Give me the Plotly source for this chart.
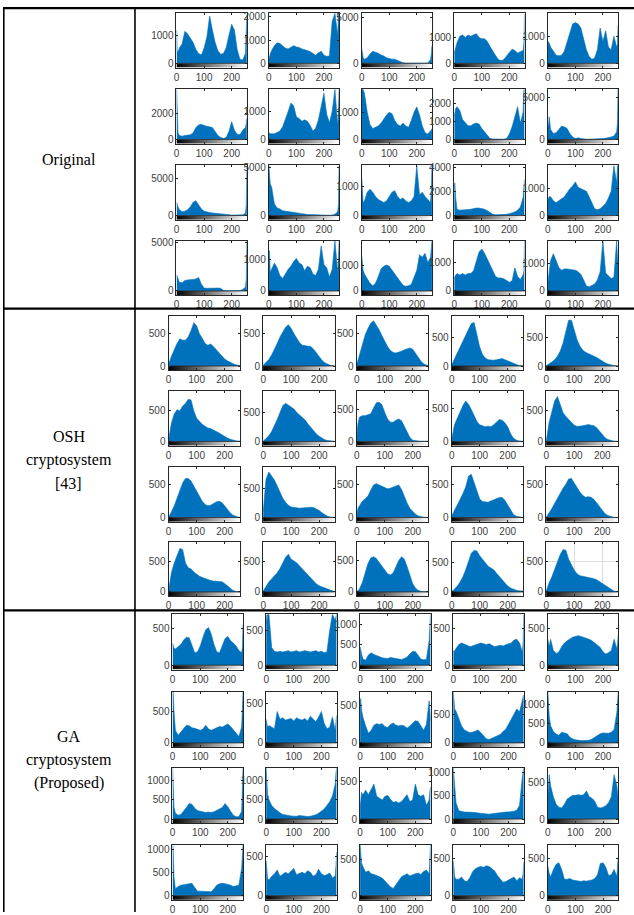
import plotly.graph_objects as go

# ---------------- data ----------------
# grey levels at which the histogram envelopes were sampled
LEVELS = [0, 2, 5, 10, 20, 30, 40, 50, 60, 70, 80, 90, 100, 110, 120, 130, 140, 150,
          160, 170, 180, 190, 200, 210, 220, 230, 240, 250, 253, 255]
GRAY_STRIP = list(range(256))
X_TICKS = [0, 100, 200]

ROW_LABELS = {"orig": ["Original"],
              "osh": ["OSH", "cryptosystem", "[43]"],
              "ga": ["GA", "cryptosystem", "(Proposed)"]}

# ---- Original images ----
orig_1_1 = [1200, 450, 400, 550, 700, 1150, 1050, 900, 750, 500, 350, 300, 550, 950, 1700, 1200, 750, 450, 330, 350, 550, 1000, 1400, 1200, 500, 150, 120, 350, 900, 1750]
orig_1_2 = [150, 300, 400, 550, 750, 880, 850, 750, 650, 620, 700, 760, 700, 680, 620, 600, 550, 500, 420, 350, 450, 520, 350, 300, 320, 1800, 2150, 1200, 2150, 2150]
orig_1_3 = [1600, 1100, 600, 450, 600, 1000, 1300, 1200, 1100, 900, 800, 600, 500, 450, 450, 300, 120, 60, 25, 15, 10, 10, 10, 10, 15, 20, 50, 400, 1100, 1900]
orig_1_4 = [400, 500, 600, 800, 1050, 1100, 1000, 1100, 1050, 1100, 1150, 1000, 950, 950, 850, 650, 450, 300, 150, 100, 150, 300, 450, 550, 500, 400, 450, 500, 800, 1900]
orig_1_5 = [600, 800, 750, 600, 450, 300, 280, 300, 450, 800, 1200, 1450, 1500, 1450, 1300, 900, 500, 250, 150, 200, 500, 1300, 800, 1200, 600, 500, 1000, 600, 700, 1400]
orig_2_1 = [3800, 1500, 500, 300, 250, 300, 300, 350, 500, 900, 1100, 1150, 1050, 1000, 950, 900, 600, 300, 150, 80, 150, 600, 1350, 700, 400, 350, 700, 900, 1200, 1600]
orig_2_2 = [250, 220, 200, 200, 200, 250, 300, 450, 700, 1000, 1300, 1200, 800, 750, 650, 700, 650, 500, 300, 400, 700, 1200, 1650, 900, 600, 1000, 1790, 500, 1000, 1790]
orig_2_3 = [1850, 1850, 1850, 1700, 1000, 550, 400, 450, 500, 600, 750, 900, 1000, 950, 700, 550, 500, 600, 500, 450, 700, 1000, 1200, 900, 500, 250, 200, 300, 350, 400]
orig_2_4 = [1300, 1500, 1700, 1800, 1600, 1100, 900, 750, 750, 850, 900, 850, 600, 400, 200, 50, 20, 10, 10, 10, 10, 50, 300, 700, 1200, 1800, 900, 1500, 2760, 2760]
orig_2_5 = [1800, 1500, 2700, 1200, 700, 800, 1200, 1600, 1500, 1300, 700, 300, 100, 200, 100, 30, 20, 20, 20, 20, 30, 50, 100, 150, 200, 300, 400, 900, 2000, 6000]
orig_3_1 = [1800, 1500, 1200, 800, 500, 600, 800, 1200, 1800, 2000, 1500, 900, 600, 450, 400, 350, 300, 300, 250, 200, 150, 100, 80, 70, 60, 60, 100, 300, 1500, 6700]
orig_3_2 = [5250, 4000, 3300, 3000, 1200, 800, 700, 500, 450, 400, 350, 300, 250, 250, 200, 150, 120, 100, 80, 60, 50, 50, 40, 40, 40, 50, 150, 400, 1200, 5250]
orig_3_3 = [1300, 800, 450, 500, 800, 900, 800, 650, 550, 500, 450, 500, 650, 800, 850, 650, 550, 600, 500, 450, 500, 650, 1700, 700, 800, 650, 550, 450, 900, 1710]
orig_3_4 = [2400, 2700, 1500, 500, 450, 450, 480, 500, 520, 580, 620, 620, 580, 520, 400, 250, 100, 60, 60, 60, 70, 100, 150, 200, 300, 450, 700, 1500, 2500, 3000]
orig_3_5 = [600, 650, 700, 700, 550, 480, 550, 600, 700, 850, 1000, 1100, 1250, 1050, 1000, 950, 900, 700, 450, 250, 220, 250, 350, 450, 650, 900, 1860, 1200, 1860, 1100]
orig_4_1 = [1700, 1500, 1200, 900, 850, 1100, 1150, 1150, 1200, 1250, 1400, 700, 300, 280, 300, 300, 300, 300, 280, 50, 30, 20, 20, 20, 30, 50, 150, 400, 1200, 5200]
orig_4_2 = [800, 1300, 600, 700, 900, 750, 500, 400, 550, 700, 800, 950, 1050, 900, 850, 650, 800, 750, 550, 500, 700, 1450, 850, 750, 450, 700, 1615, 600, 1000, 1615]
orig_4_3 = [1350, 1100, 800, 650, 450, 300, 200, 300, 550, 850, 950, 1000, 950, 800, 650, 500, 380, 220, 180, 200, 250, 500, 800, 1400, 1300, 1450, 1100, 1300, 1700, 1930]
orig_4_4 = [450, 500, 550, 600, 550, 600, 550, 600, 600, 700, 1000, 1350, 1450, 1300, 1100, 900, 700, 500, 450, 450, 420, 350, 300, 350, 800, 500, 400, 550, 700, 1730]
orig_4_5 = [300, 500, 800, 1100, 1350, 1100, 850, 750, 800, 800, 780, 750, 750, 700, 600, 400, 180, 150, 200, 250, 400, 700, 1815, 650, 550, 450, 500, 1815, 1200, 1000]
orig_ymax = [[1800, 2150, 5420, 1940, 1845], [3800, 1790, 1850, 2760, 5980],
             [6770, 5250, 1710, 4140, 1860], [5210, 1615, 1930, 1730, 1815]]
orig_ystep = [[1000, 1000, 5000, 1000, 1000], [2000, 1000, 1000, 1000, 5000],
              [5000, 5000, 1000, 2000, 1000], [5000, 1000, 1000, 1000, 1000]]

# ---- OSH cryptosystem [43] ----
osh_1_1 = [30, 60, 100, 150, 250, 350, 420, 400, 400, 450, 550, 670, 620, 500, 430, 350, 320, 340, 300, 250, 200, 150, 110, 80, 55, 35, 20, 8, 5, 3]
osh_1_2 = [10, 20, 30, 50, 100, 170, 250, 350, 450, 530, 600, 640, 580, 500, 430, 360, 320, 310, 310, 300, 260, 200, 140, 90, 50, 25, 10, 5, 3, 2]
osh_1_3 = [20, 50, 100, 200, 350, 480, 580, 660, 700, 640, 560, 470, 380, 300, 240, 210, 200, 210, 230, 250, 270, 280, 260, 200, 130, 70, 30, 10, 5, 3]
osh_1_4 = [20, 40, 80, 150, 250, 350, 450, 550, 650, 740, 760, 550, 330, 200, 140, 110, 100, 100, 110, 120, 130, 110, 90, 60, 40, 25, 10, 5, 3, 2]
osh_1_5 = [5, 10, 20, 40, 70, 110, 170, 260, 400, 600, 800, 800, 620, 460, 350, 280, 240, 220, 200, 180, 150, 120, 80, 55, 35, 20, 10, 5, 3, 2]
osh_2_1 = [30, 100, 200, 300, 450, 520, 500, 580, 620, 690, 680, 500, 380, 320, 280, 250, 220, 210, 190, 170, 140, 110, 80, 55, 35, 20, 10, 5, 3, 2]
osh_2_2 = [5, 10, 25, 50, 100, 170, 270, 380, 500, 620, 660, 630, 600, 560, 500, 460, 420, 370, 300, 240, 180, 130, 90, 55, 30, 15, 8, 4, 2, 1]
osh_2_3 = [100, 200, 300, 380, 400, 400, 410, 430, 520, 600, 610, 570, 450, 350, 300, 300, 330, 350, 320, 230, 130, 60, 20, 10, 5, 3, 2, 1, 1, 1]
osh_2_4 = [30, 80, 150, 250, 350, 450, 540, 610, 560, 480, 380, 300, 250, 230, 220, 230, 220, 250, 290, 330, 320, 280, 220, 120, 50, 20, 8, 3, 2, 1]
osh_2_5 = [10, 50, 150, 300, 500, 650, 720, 600, 460, 400, 350, 300, 260, 240, 240, 250, 260, 270, 260, 250, 220, 170, 110, 60, 30, 12, 5, 2, 1, 1]
osh_3_1 = [5, 20, 50, 90, 180, 300, 420, 530, 600, 600, 560, 480, 400, 330, 250, 200, 180, 190, 220, 240, 250, 230, 180, 120, 70, 35, 15, 5, 3, 2]
osh_3_2 = [100, 250, 450, 650, 780, 720, 640, 540, 440, 330, 260, 210, 180, 170, 160, 160, 165, 170, 170, 175, 170, 150, 120, 80, 45, 20, 8, 3, 2, 1]
osh_3_3 = [50, 100, 150, 180, 250, 290, 330, 420, 500, 520, 500, 490, 460, 440, 450, 470, 490, 500, 430, 320, 220, 140, 90, 50, 25, 12, 5, 2, 1, 1]
osh_3_4 = [20, 40, 70, 110, 190, 270, 360, 460, 620, 650, 520, 380, 280, 240, 230, 230, 250, 270, 290, 300, 300, 260, 190, 110, 50, 20, 8, 3, 2, 1]
osh_3_5 = [10, 20, 40, 70, 140, 220, 300, 370, 450, 510, 590, 600, 530, 450, 390, 340, 310, 320, 310, 280, 230, 170, 110, 60, 30, 12, 5, 2, 1, 1]
osh_4_1 = [30, 100, 200, 320, 480, 600, 720, 700, 480, 400, 380, 330, 290, 260, 240, 220, 200, 190, 180, 180, 180, 170, 140, 100, 60, 25, 10, 3, 2, 1]
osh_4_2 = [15, 30, 60, 100, 160, 210, 260, 310, 380, 460, 560, 610, 530, 500, 470, 420, 370, 320, 270, 220, 170, 130, 100, 80, 65, 50, 30, 15, 10, 5]
osh_4_3 = [5, 10, 25, 50, 150, 300, 450, 540, 560, 530, 470, 400, 340, 290, 270, 300, 400, 500, 560, 520, 400, 250, 130, 60, 25, 10, 5, 2, 1, 1]
osh_4_4 = [5, 10, 25, 50, 100, 170, 260, 380, 530, 660, 710, 700, 620, 560, 490, 440, 410, 380, 320, 260, 200, 150, 100, 70, 45, 30, 20, 15, 15, 15]
osh_4_5 = [20, 50, 100, 150, 250, 380, 500, 620, 700, 690, 540, 440, 360, 300, 270, 260, 250, 250, 240, 220, 200, 170, 130, 100, 70, 40, 20, 8, 5, 3]
osh_ymax = [[780, 780, 780, 880, 880], [826, 873, 784, 760, 808],
            [773, 862, 773, 758, 773], [833, 815, 800, 862, 833]]
osh_ystep = [[500] * 5 for _ in range(4)]

# ---- GA cryptosystem (Proposed) ----
ga_1_1 = [300, 250, 230, 220, 250, 280, 340, 380, 370, 280, 170, 180, 260, 380, 480, 510, 420, 280, 180, 170, 260, 360, 390, 330, 300, 260, 200, 170, 250, 550]
ga_1_2 = [734, 600, 734, 734, 250, 200, 190, 200, 190, 200, 210, 190, 200, 210, 190, 200, 210, 200, 190, 200, 210, 190, 200, 180, 190, 500, 734, 650, 734, 734]
ga_1_3 = [450, 350, 280, 150, 120, 250, 300, 260, 230, 200, 180, 170, 160, 190, 170, 160, 150, 140, 160, 200, 270, 330, 330, 250, 150, 130, 140, 600, 1000, 1236]
ga_1_4 = [200, 180, 200, 230, 280, 300, 290, 270, 250, 260, 280, 290, 300, 290, 280, 290, 270, 250, 260, 270, 260, 280, 290, 300, 340, 350, 300, 180, 300, 689]
ga_1_5 = [350, 300, 250, 350, 200, 160, 180, 250, 300, 330, 360, 380, 390, 400, 390, 380, 370, 350, 330, 300, 280, 240, 180, 150, 170, 200, 350, 220, 300, 420]
ga_2_1 = [805, 805, 500, 200, 120, 170, 230, 280, 270, 240, 230, 210, 200, 220, 280, 220, 200, 220, 240, 260, 250, 280, 300, 260, 200, 150, 100, 250, 805, 805]
ga_2_2 = [300, 250, 200, 220, 200, 180, 400, 300, 320, 290, 300, 310, 280, 320, 300, 290, 310, 280, 340, 300, 270, 330, 400, 250, 180, 200, 330, 160, 250, 350]
ga_2_3 = [500, 600, 450, 350, 230, 130, 170, 240, 260, 250, 260, 220, 210, 250, 270, 240, 230, 240, 230, 200, 230, 270, 300, 290, 230, 170, 250, 570, 450, 300]
ga_2_4 = [900, 700, 600, 560, 420, 300, 230, 200, 180, 190, 210, 230, 180, 120, 70, 60, 80, 100, 120, 150, 200, 240, 330, 420, 500, 600, 550, 750, 850, 850]
ga_2_5 = [1330, 1000, 700, 450, 300, 230, 200, 280, 260, 240, 150, 100, 80, 60, 60, 60, 60, 70, 100, 150, 200, 240, 260, 250, 250, 280, 350, 800, 1100, 1330]
ga_3_1 = [1320, 700, 300, 150, 100, 120, 200, 300, 400, 380, 280, 220, 200, 180, 170, 180, 170, 190, 220, 250, 300, 400, 320, 200, 100, 60, 60, 200, 1320, 1320]
ga_3_2 = [1320, 800, 650, 500, 350, 270, 210, 160, 120, 100, 85, 80, 75, 70, 90, 80, 65, 65, 70, 90, 110, 150, 200, 260, 350, 450, 600, 900, 1200, 1320]
ga_3_3 = [150, 300, 350, 320, 380, 320, 400, 460, 300, 280, 250, 300, 310, 260, 220, 230, 210, 230, 280, 320, 230, 250, 460, 320, 300, 320, 180, 250, 380, 420]
ga_3_4 = [1105, 900, 600, 350, 180, 160, 150, 150, 150, 145, 140, 130, 120, 110, 100, 105, 115, 125, 135, 140, 145, 150, 155, 160, 170, 190, 300, 900, 1000, 1105]
ga_3_5 = [300, 500, 600, 450, 300, 200, 160, 150, 200, 270, 300, 320, 320, 330, 320, 330, 380, 300, 280, 240, 160, 150, 160, 180, 220, 300, 600, 450, 350, 300]
ga_4_1 = [1108, 1000, 400, 150, 200, 230, 240, 250, 260, 270, 180, 100, 100, 100, 95, 90, 85, 150, 230, 260, 270, 260, 250, 230, 200, 210, 230, 600, 1108, 1108]
ga_4_2 = [450, 250, 220, 200, 250, 280, 330, 250, 270, 300, 280, 310, 350, 270, 290, 300, 280, 320, 300, 250, 270, 340, 280, 260, 270, 290, 230, 250, 400, 560]
ga_4_3 = [694, 500, 450, 400, 320, 340, 300, 290, 280, 260, 240, 200, 150, 120, 100, 150, 200, 260, 280, 300, 270, 290, 300, 310, 290, 330, 350, 300, 500, 694]
ga_4_4 = [470, 300, 250, 220, 220, 250, 200, 190, 240, 320, 360, 380, 390, 380, 400, 390, 360, 330, 270, 220, 180, 190, 210, 230, 250, 200, 240, 220, 300, 450]
ga_4_5 = [400, 350, 300, 250, 350, 420, 440, 350, 220, 220, 230, 210, 200, 195, 190, 200, 195, 205, 210, 230, 280, 430, 440, 380, 270, 280, 350, 260, 400, 520]
ga_ymax = [[689, 734, 1236, 689, 689], [805, 648, 689, 900, 1330],
           [1320, 1320, 671, 1105, 689], [1108, 652, 694, 681, 681]]
ga_ystep = [[500] * 5 for _ in range(4)]

orig_hists = [[orig_1_1, orig_1_2, orig_1_3, orig_1_4, orig_1_5],
              [orig_2_1, orig_2_2, orig_2_3, orig_2_4, orig_2_5],
              [orig_3_1, orig_3_2, orig_3_3, orig_3_4, orig_3_5],
              [orig_4_1, orig_4_2, orig_4_3, orig_4_4, orig_4_5]]
osh_hists = [[osh_1_1, osh_1_2, osh_1_3, osh_1_4, osh_1_5],
             [osh_2_1, osh_2_2, osh_2_3, osh_2_4, osh_2_5],
             [osh_3_1, osh_3_2, osh_3_3, osh_3_4, osh_3_5],
             [osh_4_1, osh_4_2, osh_4_3, osh_4_4, osh_4_5]]
ga_hists = [[ga_1_1, ga_1_2, ga_1_3, ga_1_4, ga_1_5],
            [ga_2_1, ga_2_2, ga_2_3, ga_2_4, ga_2_5],
            [ga_3_1, ga_3_2, ga_3_3, ga_3_4, ga_3_5],
            [ga_4_1, ga_4_2, ga_4_3, ga_4_4, ga_4_5]]

# ---------------- layout geometry (pixels) ----------------
W, H = 634, 915
CB = 4.5  # grey colour strip height under each histogram
GEOM = {
    "orig": dict(lefts=[174.3, 267.0, 360.3, 453.3, 547.3], width=70.8,
                 tops=[9.3, 86.0, 162.7, 238.7], hh=50.5),
    "osh": dict(lefts=[166.3, 261.3, 355.3, 450.7, 545.7], width=72.0,
                tops=[314.0, 390.0, 466.7, 541.7], hh=50.8),
    "ga": dict(lefts=[170.3, 264.3, 358.7, 452.3, 547.3], width=71.0,
               tops=[615.0, 693.3, 770.0, 847.3], hh=51.3),
}
BLUE = "#0072BD"
AXC = "#262626"
TICKFONT = dict(family="Liberation Sans, Arial, sans-serif", size=10, color="#404040")

fig = go.Figure()
layout_axes = {}
shapes = []
idx = 0
for band, hists, ymaxs, steps in [("orig", orig_hists, orig_ymax, orig_ystep),
                                  ("osh", osh_hists, osh_ymax, osh_ystep),
                                  ("ga", ga_hists, ga_ymax, ga_ystep)]:
    g = GEOM[band]
    for r in range(4):
        for c in range(5):
            idx += 1
            sfx = "" if idx == 1 else str(idx)
            xa, ya = "x" + sfx, "y" + sfx
            ymax = ymaxs[r][c]
            cbh = ymax * CB / g["hh"]
            left = g["lefts"][c]
            top = g["tops"][r]
            bottom = top + g["hh"] + CB
            fig.add_trace(go.Heatmap(z=[GRAY_STRIP], x0=0, dx=1, y0=-cbh / 2, dy=cbh,
                                     colorscale=[[0, "#000000"], [1, "#ffffff"]],
                                     zmin=0, zmax=255, showscale=False, hoverinfo="skip",
                                     xaxis=xa, yaxis=ya))
            fig.add_trace(go.Scatter(x=LEVELS, y=hists[r][c], mode="lines", fill="tozeroy",
                                     line=dict(color=BLUE, width=0.6), fillcolor=BLUE,
                                     hoverinfo="skip", showlegend=False,
                                     xaxis=xa, yaxis=ya))
            grid = (band == "osh" and r == 3 and c == 4)
            layout_axes["xaxis" + sfx] = dict(
                domain=[left / W, (left + g["width"]) / W], range=[-0.5, 255.5],
                anchor=ya, tickmode="array", tickvals=X_TICKS, ticks="inside", ticklen=2,
                tickcolor=AXC, showline=True, mirror="ticks", linecolor=AXC, linewidth=1,
                showgrid=grid, gridcolor="#dcdcdc", gridwidth=1, zeroline=False,
                tickfont=TICKFONT, fixedrange=True)
            layout_axes["yaxis" + sfx] = dict(
                domain=[1 - bottom / H, 1 - top / H], range=[-cbh, ymax],
                anchor=xa, tickmode="linear", tick0=0, dtick=steps[r][c], ticks="inside",
                ticklen=2, tickcolor=AXC, showline=True, mirror="ticks", linecolor=AXC,
                linewidth=1, showgrid=grid, gridcolor="#dcdcdc", gridwidth=1,
                zeroline=False, tickfont=TICKFONT, fixedrange=True)
            shapes.append(dict(type="line", xref=xa, yref=ya, x0=-0.5, x1=255.5, y0=0, y1=0,
                               line=dict(color=AXC, width=0.8), layer="above"))

# table rules
def hline(py, x0, x1, w):
    return dict(type="line", xref="paper", yref="paper", x0=x0 / W, x1=x1 / W,
                y0=1 - py / H, y1=1 - py / H, line=dict(color="black", width=w))

def vline(px, y0, y1, w):
    return dict(type="line", xref="paper", yref="paper", x0=px / W, x1=px / W,
                y0=1 - y0 / H, y1=1 - y1 / H, line=dict(color="black", width=w))

shapes += [hline(4.2, 0, W, 2.2), hline(307.0, 0, W, 2.4), hline(611.0, 0, W, 2.4),
           vline(132.6, 3, H, 1.6), vline(0.8, 3, H, 1.6)]

# row labels
label_y = {"orig": [157], "osh": [436, 459.5, 483], "ga": [738, 761.5, 785]}
annotations = []
for band, lines in ROW_LABELS.items():
    for text, py in zip(lines, label_y[band]):
        annotations.append(dict(text=text, x=66 / W, y=1 - py / H, xref="paper", yref="paper",
                                showarrow=False, xanchor="center", yanchor="middle",
                                font=dict(family="Liberation Serif, Times New Roman, serif",
                                          size=16, color="black")))

fig.update_layout(width=W, height=H, margin=dict(l=0, r=0, t=0, b=0),
                  paper_bgcolor="white", plot_bgcolor="white", showlegend=False,
                  shapes=shapes, annotations=annotations, **layout_axes)
fig.write_html("out.html", config={"displayModeBar": False},
               post_script="document.body.style.margin='0';document.body.style.overflow='hidden';")
